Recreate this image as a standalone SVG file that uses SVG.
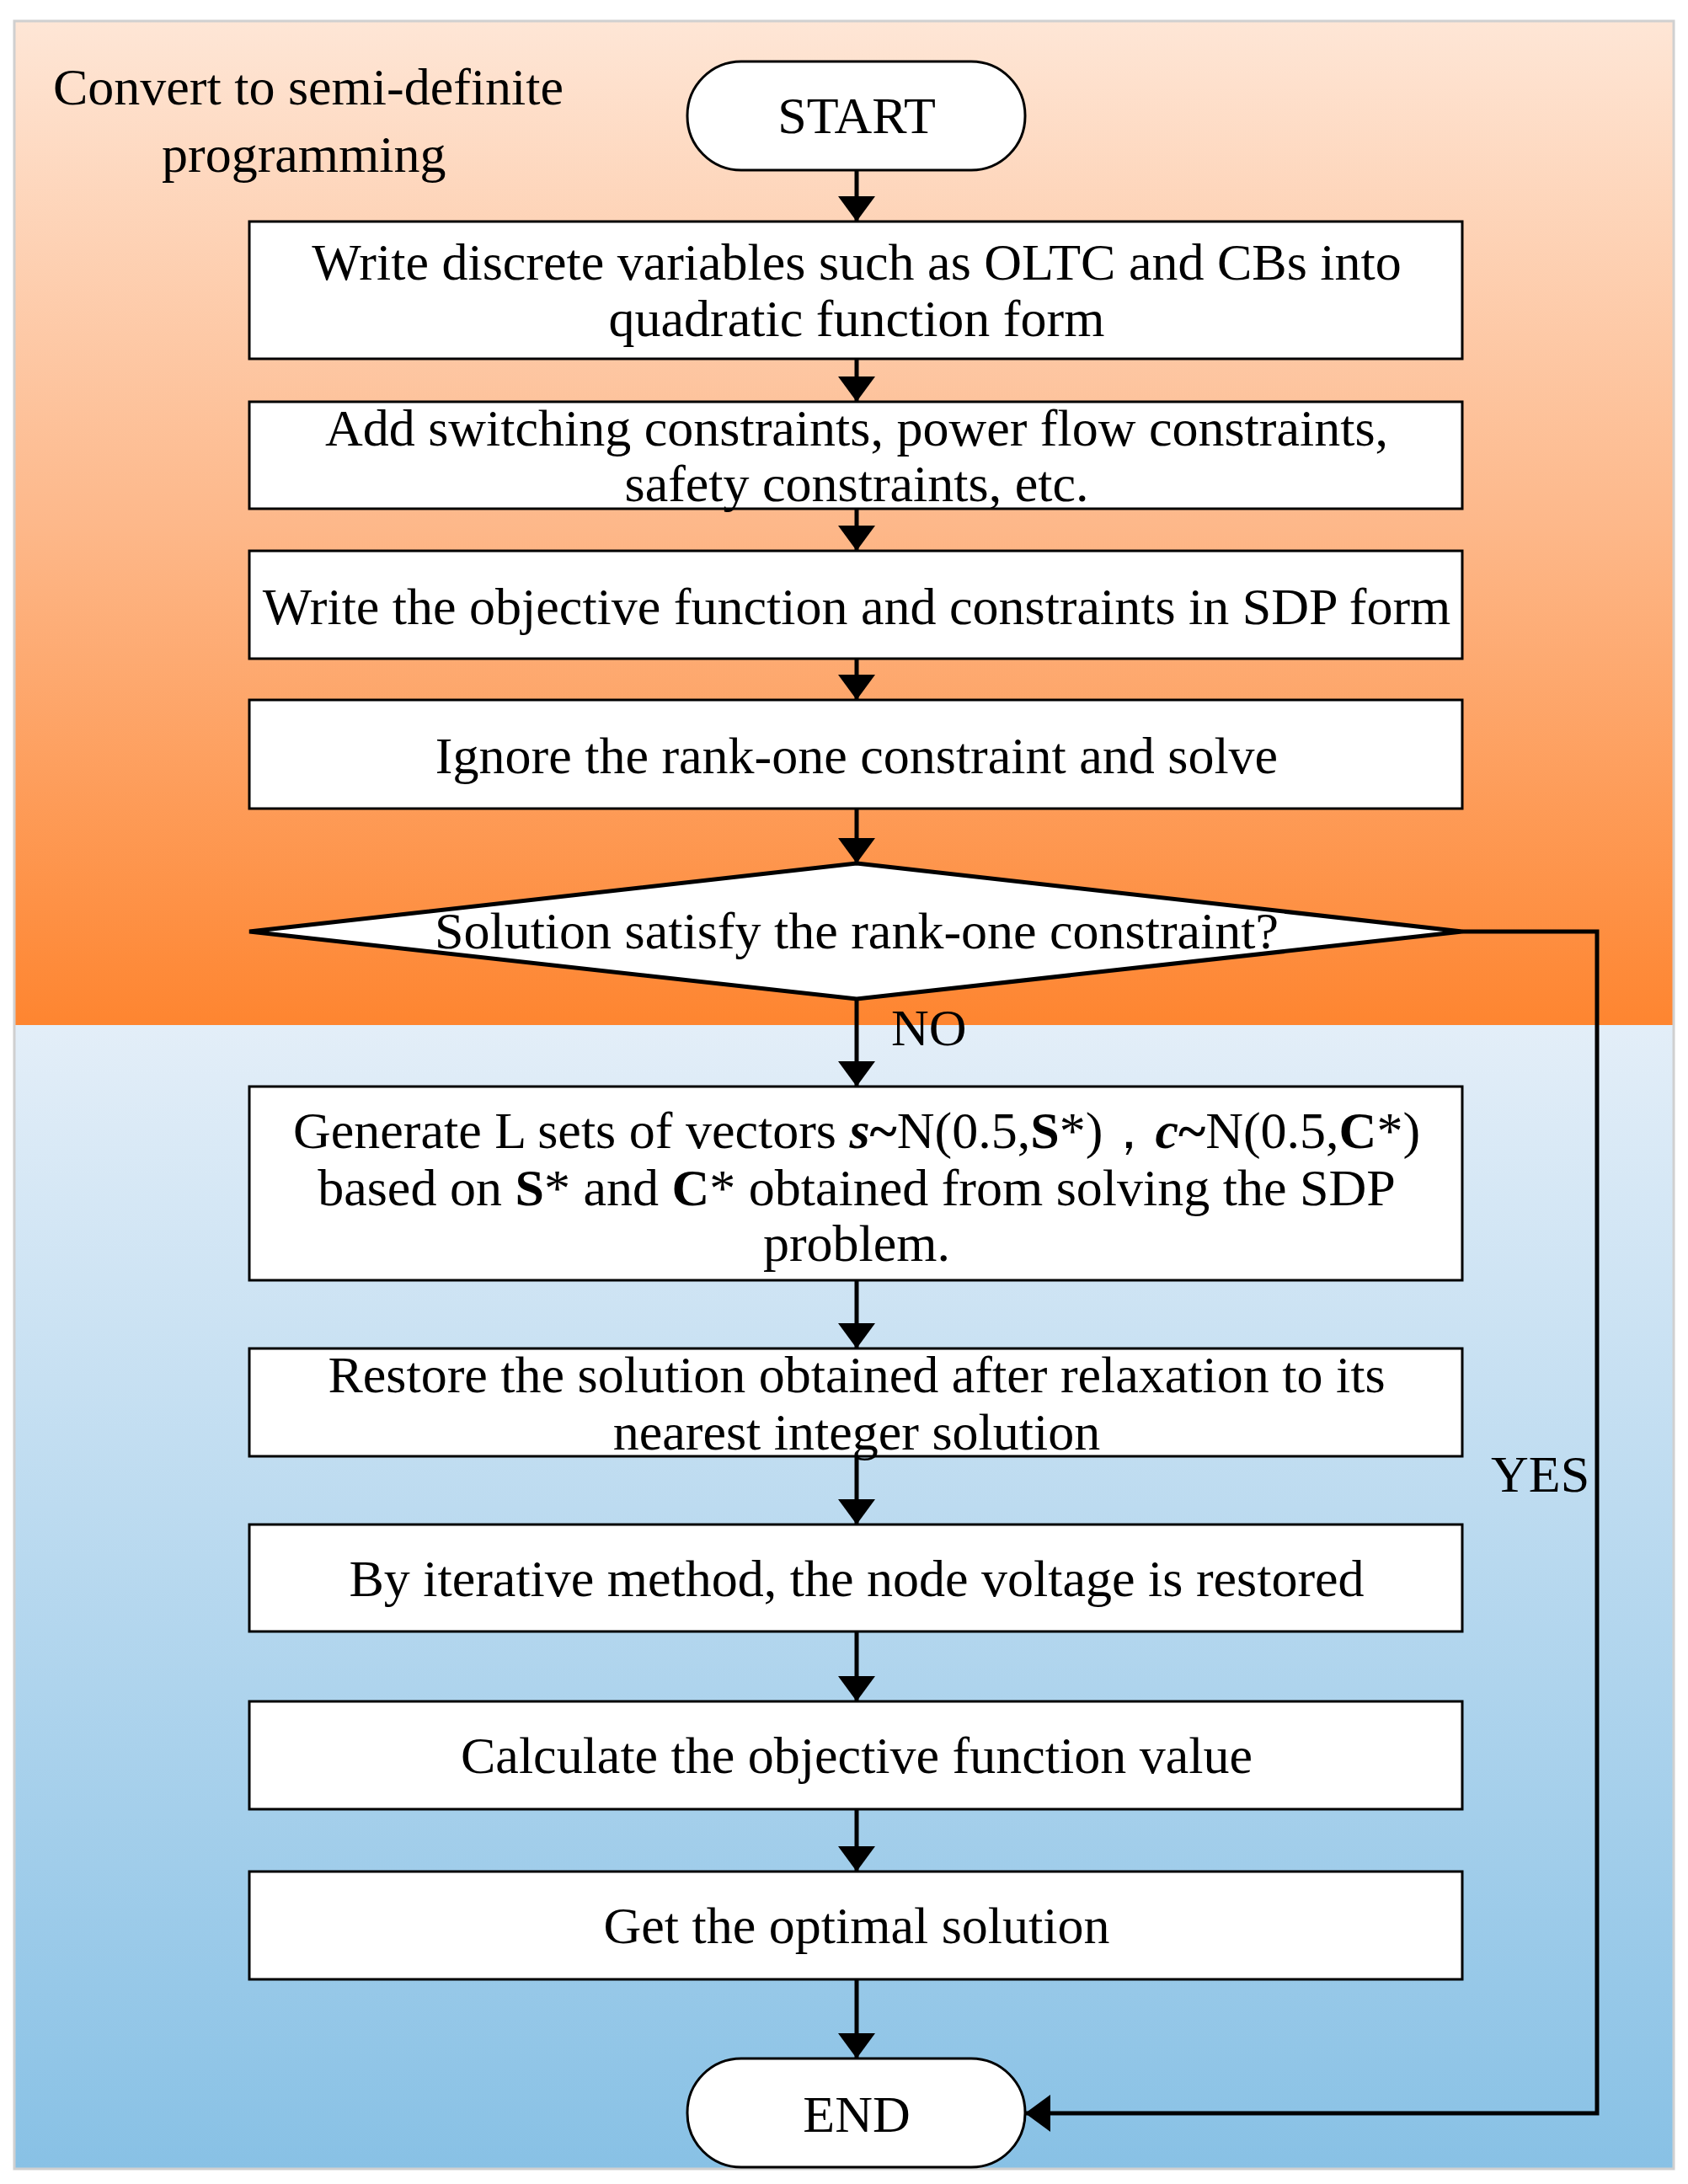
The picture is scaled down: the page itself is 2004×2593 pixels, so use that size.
<svg xmlns="http://www.w3.org/2000/svg" width="2004" height="2593" viewBox="0 0 2004 2593">
<defs>
<linearGradient id="og" x1="0" y1="0" x2="0" y2="1"><stop offset="0" stop-color="#fee6d6"/><stop offset="0.5" stop-color="#fdb88a"/><stop offset="1" stop-color="#fe8530"/></linearGradient>
<linearGradient id="bg" x1="0" y1="0" x2="0" y2="1"><stop offset="0" stop-color="#e3eef8"/><stop offset="1" stop-color="#88c1e5"/></linearGradient>
<marker id="a2" markerWidth="30" markerHeight="44" refX="30" refY="22" orient="auto" markerUnits="userSpaceOnUse"><path d="M0,0 L30,22 L0,44 z" fill="#000"/></marker>
<style>
text{font-family:"Liberation Serif","Times New Roman",serif;font-size:62px;fill:#000}
.c{text-anchor:middle}
.b{fill:#fff;stroke:#000;stroke-width:3}
.l{fill:none;stroke:#000;stroke-width:5}
</style>
</defs>
<rect x="0" y="0" width="2004" height="2593" fill="#fff"/>
<rect x="17" y="25" width="1970" height="1192" fill="url(#og)"/>
<rect x="17" y="1217" width="1970" height="1358" fill="url(#bg)"/>
<rect x="17" y="25" width="1970" height="2550" fill="none" stroke="#d0d0d0" stroke-width="3"/>
<text x="63" y="124">Convert to semi-definite</text>
<text x="192" y="204">programming</text>
<g id="connectors">
<line class="l" x1="1017" y1="202" x2="1017" y2="263" marker-end="url(#a2)"/>
<line class="l" x1="1017" y1="426" x2="1017" y2="477" marker-end="url(#a2)"/>
<line class="l" x1="1017" y1="604" x2="1017" y2="654" marker-end="url(#a2)"/>
<line class="l" x1="1017" y1="782" x2="1017" y2="831" marker-end="url(#a2)"/>
<line class="l" x1="1017" y1="960" x2="1017" y2="1025" marker-end="url(#a2)"/>
<line class="l" x1="1017" y1="1186" x2="1017" y2="1290" marker-end="url(#a2)"/>
<line class="l" x1="1017" y1="1520" x2="1017" y2="1601" marker-end="url(#a2)"/>
<line class="l" x1="1017" y1="1729" x2="1017" y2="1810" marker-end="url(#a2)"/>
<line class="l" x1="1017" y1="1937" x2="1017" y2="2020" marker-end="url(#a2)"/>
<line class="l" x1="1017" y1="2148" x2="1017" y2="2222" marker-end="url(#a2)"/>
<line class="l" x1="1017" y1="2350" x2="1017" y2="2444" marker-end="url(#a2)"/>
<polyline class="l" points="1736,1106 1896,1106 1896,2509 1217,2509" marker-end="url(#a2)"/>
<text x="1058" y="1241">NO</text>
<text x="1770" y="1771">YES</text>
</g>
<g id="start"><rect class="b" x="816" y="73" width="401" height="129" rx="64"/><text class="c" x="1017" y="158">START</text></g>
<g id="n1"><rect class="b" x="296" y="263" width="1440" height="163"/><text class="c" x="1017" y="332">Write discrete variables such as OLTC and CBs into</text><text class="c" x="1017" y="399">quadratic function form</text></g>
<g id="n2"><rect class="b" x="296" y="477" width="1440" height="127"/><text class="c" x="1017" y="529">Add switching constraints, power flow constraints,</text><text class="c" x="1017" y="595">safety constraints, etc.</text></g>
<g id="n3"><rect class="b" x="296" y="654" width="1440" height="128"/><text class="c" x="1017" y="741">Write the objective function and constraints in SDP form</text></g>
<g id="n4"><rect class="b" x="296" y="831" width="1440" height="129"/><text class="c" x="1017" y="918">Ignore the rank-one constraint and solve</text></g>
<g id="d1"><polygon class="b" style="stroke-width:5" points="1017,1025 1736,1106 1017,1186 296,1106"/><text class="c" x="1017" y="1126">Solution satisfy the rank-one constraint?</text></g>
<g id="n5"><rect class="b" x="296" y="1290" width="1440" height="230"/>
<text class="c" x="1017" y="1363">Generate L sets of vectors <tspan font-weight="bold" font-style="italic">s</tspan><tspan font-weight="bold">~</tspan>N(0.5,<tspan font-weight="bold">S</tspan>*)，<tspan font-weight="bold" font-style="italic">c</tspan><tspan font-weight="bold">~</tspan>N(0.5,<tspan font-weight="bold">C</tspan>*)</text>
<text class="c" x="1017" y="1431">based on <tspan font-weight="bold">S</tspan>* and <tspan font-weight="bold">C</tspan>* obtained from solving the SDP</text>
<text class="c" x="1017" y="1497">problem.</text></g>
<g id="n6"><rect class="b" x="296" y="1601" width="1440" height="128"/><text class="c" x="1017" y="1653">Restore the solution obtained after relaxation to its</text><text class="c" x="1017" y="1721">nearest integer solution</text></g>
<g id="n7"><rect class="b" x="296" y="1810" width="1440" height="127"/><text class="c" x="1017" y="1895">By iterative method, the node voltage is restored</text></g>
<g id="n8"><rect class="b" x="296" y="2020" width="1440" height="128"/><text class="c" x="1017" y="2105">Calculate the objective function value</text></g>
<g id="n9"><rect class="b" x="296" y="2222" width="1440" height="128"/><text class="c" x="1017" y="2307">Get the optimal solution</text></g>
<g id="end"><rect class="b" x="816" y="2444" width="401" height="129" rx="64"/><text class="c" x="1017" y="2531">END</text></g>
</svg>
